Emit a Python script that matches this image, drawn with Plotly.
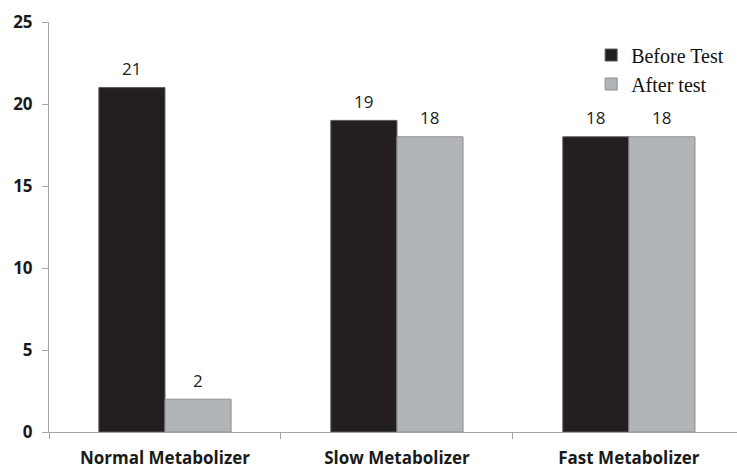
import plotly.graph_objects as go

categories = ["Normal Metabolizer", "Slow Metabolizer", "Fast Metabolizer"]
before_test = [21, 19, 18]
after_test = [2, 18, 18]
y_ticks = [0, 5, 10, 15, 20, 25]

fig = go.Figure()
fig.add_trace(go.Bar(
    x=categories, y=before_test, name="Before Test",
    marker=dict(color="#231f20", line=dict(color="#5a5a5a", width=1)),
))
fig.add_trace(go.Bar(
    x=categories, y=after_test, name="After test",
    marker=dict(color="#b2b5b8", line=dict(color="#8c8f92", width=1)),
))

annotations = []
for vals, shift in ((before_test, -33), (after_test, 33)):
    for c, v in zip(categories, vals):
        annotations.append(dict(
            x=c, y=v, text=str(v), showarrow=False, xshift=shift, yshift=19,
            font=dict(family="Open Sans", size=17, color="#222222"),
        ))

fig.update_layout(
    width=737, height=470,
    margin=dict(l=49, r=0, t=22, b=38),
    plot_bgcolor="white", paper_bgcolor="white",
    barmode="group", bargap=0.43, bargroupgap=0,
    annotations=annotations,
    showlegend=True,
    legend=dict(x=0.788, y=0.967, xanchor="left", yanchor="top",
                font=dict(family="Liberation Serif", size=20, color="#111111"),
                bgcolor="rgba(0,0,0,0)", itemwidth=30),
    xaxis=dict(range=[-0.5, 2.466], showline=True, linecolor="#a6a6a6", linewidth=1,
               ticks="outside", tickson="boundaries", ticklen=6, tickcolor="#a6a6a6",
               tickfont=dict(family="Open Sans", size=17, color="#1a1a1a", weight="bold"),
               showgrid=False, zeroline=False, ticklabelstandoff=11, automargin=False),
    yaxis=dict(range=[0, 25], tickvals=y_ticks, showline=True, linecolor="#a6a6a6", linewidth=1,
               ticks="outside", ticklen=6, tickcolor="#a6a6a6",
               tickfont=dict(family="Open Sans", size=17, color="#1a1a1a", weight="bold"),
               showgrid=False, zeroline=False, ticklabelstandoff=6, automargin=False),
)

fig.write_html("out.html")
